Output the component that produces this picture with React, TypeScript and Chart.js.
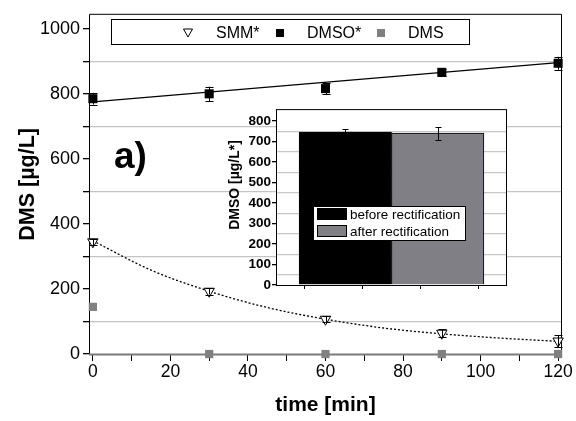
import React, { useEffect, useRef } from 'react';
import { Chart, registerables } from 'chart.js';
Chart.register(...registerables);

const FONT = '"Liberation Sans", Arial, Helvetica, sans-serif';

// ---- main chart data ----
const times = [0, 30, 60, 90, 120];
const smm = [345, 193, 107, 64, 40];
const smmErr = [10, 10, 10, 12, 18];
const dmso = [785, 800, 816, 866, 894];
const dmsoErr = [18, 22, 18, 10, 20];
const dms = [145, 0, 0, 0, 0];
const smmFitT = [0, 15, 30, 45, 60, 75, 90, 105, 120];
const smmFit = [348, 258, 193, 143, 107, 80, 62, 49, 39];
const dmsoFitT = [0, 120];
const dmsoFit = [775, 896];
const xTicks = [0, 10, 20, 30, 40, 50, 60, 70, 80, 90, 100, 110, 120];
const yTicks = [0, 100, 200, 300, 400, 500, 600, 700, 800, 900, 1000];
const legendLabels = ['SMM*', 'DMSO*', 'DMS'];

// ---- inset data ----
const insetLabels = ['before rectification', 'after rectification'];
const insetPos = [1.2, 2.8];
const insetValues = [746, 741];
const insetErr = [15, 32];
const insetXTicks = [1, 2, 3];
const insetYTicks = [0, 50, 100, 150, 200, 250, 300, 350, 400, 450, 500, 550, 600, 650, 700, 750, 800];
const insetColors = ['#000000', '#7f7f85'];

const mainPlugin = {
  id: 'mainDecor',
  beforeDatasetsDraw(chart: any) {
    const { ctx, chartArea: a } = chart;
    ctx.save();
    ctx.strokeStyle = '#000';
    ctx.lineWidth = 1;
    ctx.beginPath();
    ctx.moveTo(a.left + 0.5, a.bottom);
    ctx.lineTo(a.left + 0.5, a.top + 0.5);
    ctx.lineTo(a.right - 0.5, a.top + 0.5);
    ctx.lineTo(a.right - 0.5, a.bottom);
    ctx.stroke();
    ctx.strokeStyle = '#7a7a7a';
    ctx.lineWidth = 2;
    ctx.beginPath();
    ctx.moveTo(a.left, a.bottom - 0.5);
    ctx.lineTo(a.right, a.bottom - 0.5);
    ctx.stroke();
    ctx.restore();
  },
  afterDatasetsDraw(chart: any) {
    const { ctx, scales } = chart;
    const xs = scales.x, ys = scales.y;
    ctx.save();
    ctx.strokeStyle = '#000';
    ctx.lineWidth = 1;
    const bars = (vals: number[], errs: number[]) => {
      times.forEach((t, i) => {
        const x = Math.round(xs.getPixelForValue(t)) + 0.5;
        const y1 = ys.getPixelForValue(vals[i] + errs[i]);
        const y2 = ys.getPixelForValue(vals[i] - errs[i]);
        ctx.beginPath();
        ctx.moveTo(x, y1); ctx.lineTo(x, y2);
        ctx.moveTo(x - 4, Math.round(y1) + 0.5); ctx.lineTo(x + 4, Math.round(y1) + 0.5);
        ctx.moveTo(x - 4, Math.round(y2) + 0.5); ctx.lineTo(x + 4, Math.round(y2) + 0.5);
        ctx.stroke();
      });
    };
    bars(dmso, dmsoErr);
    bars(smm, smmErr);
    ctx.restore();
  },
  afterDraw(chart: any) {
    const { ctx } = chart;
    ctx.save();
    // legend box
    ctx.fillStyle = '#fff';
    ctx.fillRect(111, 19, 358, 25);
    ctx.strokeStyle = '#000';
    ctx.lineWidth = 1;
    ctx.strokeRect(111.5, 19.5, 358, 25);
    const cy = 33;
    // triangle (down)
    ctx.beginPath();
    ctx.moveTo(183.5, cy - 4);
    ctx.lineTo(192.5, cy - 4);
    ctx.lineTo(188, cy + 4);
    ctx.closePath();
    ctx.fillStyle = '#fff';
    ctx.fill();
    ctx.strokeStyle = '#000';
    ctx.stroke();
    ctx.fillStyle = '#000';
    ctx.fillRect(276, cy - 4, 8, 8);
    ctx.fillStyle = '#808080';
    ctx.fillRect(377, cy - 4, 8, 8);
    ctx.fillStyle = '#000';
    ctx.font = '16px ' + FONT;
    ctx.textBaseline = 'middle';
    ctx.textAlign = 'left';
    ctx.fillText(legendLabels[0], 216, cy + 1);
    ctx.fillText(legendLabels[1], 307, cy + 1);
    ctx.fillText(legendLabels[2], 408, cy + 1);
    // panel label
    ctx.font = 'bold 37px ' + FONT;
    ctx.textBaseline = 'alphabetic';
    ctx.fillText('a)', 114, 168);
    ctx.restore();
  },
};

const insetPlugin = {
  id: 'insetDecor',
  beforeDraw(chart: any) {
    const { ctx, chartArea: a } = chart;
    ctx.save();
    ctx.fillStyle = '#fff';
    ctx.fillRect(a.left, a.top, a.right - a.left, a.bottom - a.top);
    ctx.restore();
  },
  afterDatasetsDraw(chart: any) {
    const { ctx, chartArea: a, scales } = chart;
    const xs = scales.x, ys = scales.y;
    ctx.save();
    ctx.strokeStyle = '#000';
    ctx.lineWidth = 1;
    ctx.strokeRect(a.left + 0.5, a.top + 0.5, a.right - a.left - 1, a.bottom - a.top);
    insetPos.forEach((p, i) => {
      const x = Math.round(xs.getPixelForValue(p)) + 0.5;
      const y1 = Math.round(ys.getPixelForValue(insetValues[i] + insetErr[i])) + 0.5;
      const y2 = Math.round(ys.getPixelForValue(insetValues[i] - insetErr[i])) + 0.5;
      ctx.strokeStyle = '#000';
      ctx.beginPath();
      ctx.moveTo(x, y1); ctx.lineTo(x, y2);
      ctx.moveTo(x - 3, y1); ctx.lineTo(x + 3, y1);
      ctx.moveTo(x - 3, y2); ctx.lineTo(x + 3, y2);
      ctx.stroke();
    });
    // legend
    ctx.fillStyle = '#fff';
    ctx.fillRect(91, 106, 152, 34);
    ctx.strokeStyle = '#000';
    ctx.strokeRect(91.5, 106.5, 152, 34);
    const rows = [114, 131];
    insetLabels.forEach((lab, i) => {
      ctx.fillStyle = insetColors[i];
      ctx.fillRect(95, rows[i] - 6, 30, 12);
      ctx.strokeStyle = '#000';
      ctx.strokeRect(95.5, rows[i] - 5.5, 29, 11);
      ctx.fillStyle = '#000';
      ctx.font = '13.5px ' + FONT;
      ctx.textBaseline = 'middle';
      ctx.textAlign = 'left';
      ctx.fillText(lab, 128, rows[i] + 1);
    });
    // y title
    ctx.translate(13, 85);
    ctx.rotate(-Math.PI / 2);
    ctx.font = 'bold 14px ' + FONT;
    ctx.textAlign = 'center';
    ctx.textBaseline = 'middle';
    ctx.fillStyle = '#000';
    ctx.fillText('DMSO [µg/L*]', 0, 0);
    ctx.restore();
  },
};

export default function App() {
  const mainRef = useRef<HTMLCanvasElement>(null);
  const insetRef = useRef<HTMLCanvasElement>(null);

  useEffect(() => {
    const main = new Chart(mainRef.current as HTMLCanvasElement, {
      type: 'scatter',
      data: {
        datasets: [
          {
            label: legendLabels[0],
            data: times.map((t, i) => ({ x: t, y: smm[i] })),
            pointStyle: 'triangle', rotation: 180, pointRadius: 6,
            backgroundColor: '#fff', borderColor: '#000', borderWidth: 1, clip: false,
          } as any,
          {
            label: legendLabels[1],
            data: times.map((t, i) => ({ x: t, y: dmso[i] })),
            pointStyle: 'rect', pointRadius: 6.4,
            backgroundColor: '#000', borderColor: '#000', borderWidth: 0, clip: false,
          },
          {
            label: legendLabels[2],
            data: times.map((t, i) => ({ x: t, y: dms[i] })),
            pointStyle: 'rect', pointRadius: 5.8,
            backgroundColor: '#808080', borderColor: '#808080', borderWidth: 0, clip: false,
          },
          {
            label: 'DMSO fit',
            data: dmsoFitT.map((t, i) => ({ x: t, y: dmsoFit[i] })),
            showLine: true, borderColor: '#000', borderWidth: 1.3, pointRadius: 0,
          },
          {
            label: 'SMM fit',
            data: smmFitT.map((t, i) => ({ x: t, y: smmFit[i] })),
            showLine: true, borderColor: '#000', borderWidth: 1.3, borderDash: [2, 2],
            pointRadius: 0, cubicInterpolationMode: 'monotone',
          },
        ],
      },
      options: {
        animation: false,
        responsive: false,
        layout: { padding: { left: 0, top: 13, right: 14, bottom: 0 } },
        plugins: { legend: { display: false }, tooltip: { enabled: false } },
        scales: {
          x: {
            type: 'linear', min: -1, max: 121,
            afterBuildTicks: (s: any) => { s.ticks = xTicks.map((v) => ({ value: v })); },
            afterFit: (s: any) => { s.height = 66; },
            ticks: {
              callback: (v: any) => (v % 20 === 0 ? String(v) : ''),
              font: { family: FONT, size: 17.5 }, color: '#000', padding: 1,
              maxRotation: 0, autoSkip: false,
            },
            grid: { drawOnChartArea: false, tickColor: '#000', tickLength: 6, color: '#000' },
            border: { display: false },
            title: {
              display: true, text: 'time [min]', color: '#000',
              font: { family: FONT, size: 21, weight: 'bold' }, padding: { top: 0, bottom: 3 },
            },
          },
          y: {
            type: 'linear', min: -3, max: 1046,
            afterBuildTicks: (s: any) => { s.ticks = yTicks.map((v) => ({ value: v })); },
            afterFit: (s: any) => { s.width = 89; },
            ticks: {
              callback: (v: any) => (v % 200 === 0 ? String(v) : ''),
              font: { family: FONT, size: 18 }, color: '#000', padding: 3, autoSkip: false,
            },
            grid: {
              color: (c: any) => (c.tick && c.tick.value % 200 === 100 ? '#c4c4c4' : 'rgba(0,0,0,0)'),
              lineWidth: 1.3, tickColor: '#000', tickLength: 6,
            },
            border: { display: false },
            title: {
              display: true, text: 'DMS [µg/L]', color: '#000',
              font: { family: FONT, size: 21.5, weight: 'bold' }, padding: { top: 15, bottom: 0 },
            },
          },
        },
      } as any,
      plugins: [mainPlugin],
    });

    const inset = new Chart(insetRef.current as HTMLCanvasElement, {
      type: 'bar',
      data: {
        datasets: [
          {
            label: 'DMSO',
            data: insetPos.map((x, i) => ({ x, y: insetValues[i] })) as any,
            backgroundColor: insetColors,
            borderColor: '#000', borderWidth: 1,
            barThickness: 'flex', barPercentage: 1, categoryPercentage: 1,
          } as any,
        ],
      },
      options: {
        animation: false,
        responsive: false,
        layout: { padding: { left: 0, top: 9, right: 8, bottom: 0 } },
        plugins: { legend: { display: false }, tooltip: { enabled: false } },
        scales: {
          x: {
            type: 'linear', min: 0, max: 4, offset: false,
            afterBuildTicks: (s: any) => { s.ticks = insetXTicks.map((v) => ({ value: v })); },
            afterFit: (s: any) => { s.height = 15; },
            ticks: { display: false },
            grid: { drawOnChartArea: false, tickColor: '#000', tickLength: 4, color: '#000' },
            border: { display: false },
          },
          y: {
            type: 'linear', min: 0, max: 858,
            afterBuildTicks: (s: any) => { s.ticks = insetYTicks.map((v) => ({ value: v })); },
            afterFit: (s: any) => { s.width = 54; },
            ticks: {
              callback: (v: any) => (v % 100 === 0 ? String(v) : ''),
              font: { family: FONT, size: 13.5, weight: 'bold' }, color: '#000', padding: 1, autoSkip: false,
            },
            grid: {
              color: (c: any) => (c.tick && c.tick.value % 100 === 50 ? '#c8c8c8' : 'rgba(0,0,0,0)'),
              lineWidth: 1.3,
              tickColor: (c: any) => (c.tick && c.tick.value % 100 === 0 ? '#000' : 'rgba(0,0,0,0)'),
              tickLength: 4,
            },
            border: { display: false },
          },
        },
      } as any,
      plugins: [insetPlugin],
    });

    return () => {
      main.destroy();
      inset.destroy();
    };
  }, []);

  return (
    <div style={{ position: 'fixed', left: 0, top: 0, width: 576, height: 421, background: '#fff' }}>
      <canvas ref={mainRef} width={576} height={421} style={{ position: 'absolute', left: 0, top: 0 }} />
      <canvas ref={insetRef} width={293} height={200} style={{ position: 'absolute', left: 222, top: 100 }} />
    </div>
  );
}
